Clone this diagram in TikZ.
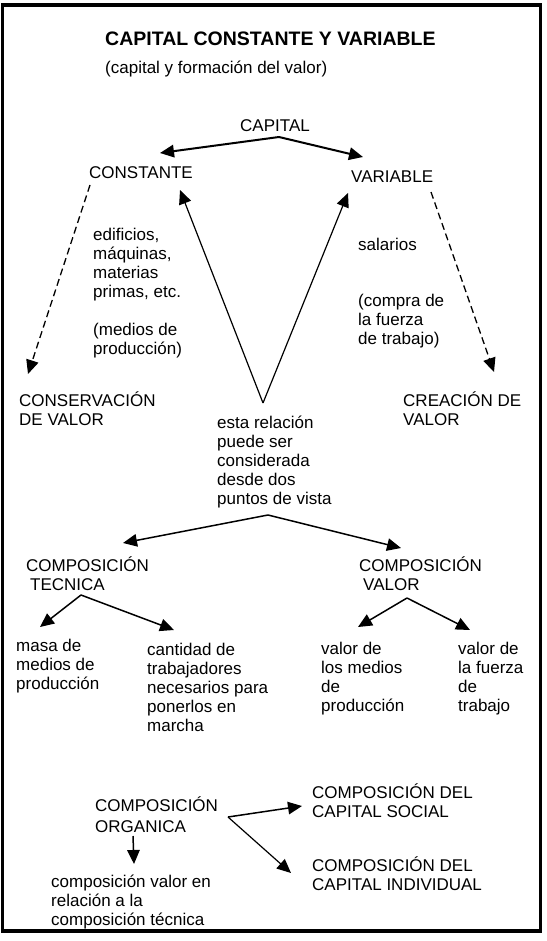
\documentclass[tikz,border=0pt]{standalone}
\usepackage{fontspec}
\setmainfont{Liberation Sans}
\usetikzlibrary{arrows.meta}
\newcommand{\fstrut}{\rule{0pt}{15pt}}
\begin{document}
\begin{tikzpicture}[x=1pt,y=-1pt,
  txt/.style={anchor=north west, inner sep=0pt, align=left, font=\fontsize{17}{19}\selectfont},
  ttl/.style={anchor=north west, inner sep=0pt, font=\bfseries\fontsize{19.5}{22}\selectfont},
  arr/.style={-{Triangle[length=14pt,width=12.5pt]}, line width=1.5pt},
  thickarr/.style={arr, line width=2pt},
  thinarr/.style={arr, line width=1.2pt},
  dasharr/.style={arr, line width=1.3pt, dash pattern=on 7pt off 4pt}]
\useasboundingbox (0,0) rectangle (546,941);
\draw[line width=3.5pt] (2.5,5) rectangle (540.5,931);

% texts (y = baseline - 15)
\node[ttl] (title) at (105,30) {\fstrut CAPITAL CONSTANTE Y VARIABLE};
\node[txt] (sub) at (105,58) {\fstrut(capital y formación del valor)};
\node[txt] (capital) at (240,116) {\fstrut CAPITAL};
\node[txt] (constante) at (89,163) {\fstrut CONSTANTE};
\node[txt] (variable) at (351,167) {\fstrut VARIABLE};
\node[txt] (edif) at (93,225) {\fstrut edificios,\\máquinas,\\materias\\primas, etc.\\[19pt](medios de\\producción)};
\node[txt] (salarios) at (358,235) {\fstrut salarios};
\node[txt] (compra) at (358,291) {\fstrut(compra de\\la fuerza\\de trabajo)};
\node[txt] (conserv) at (19,391) {\fstrut CONSERVACIÓN\\DE VALOR};
\node[txt] (creac) at (403,391) {\fstrut CREACIÓN DE\\VALOR};
\node[txt] (rel) at (217,413) {\fstrut esta relación\\puede ser\\considerada\\desde dos\\puntos de vista};
\node[txt] (ctec) at (26,556) {\fstrut COMPOSICIÓN\\\hspace{4pt}TECNICA};
\node[txt] (cval) at (359,556) {\fstrut COMPOSICIÓN\\\hspace{4pt}VALOR};
\node[txt] (masa) at (16,636) {\fstrut masa de\\medios de\\producción};
\node[txt] (cant) at (147,640) {\fstrut cantidad de\\trabajadores\\necesarios para\\ponerlos en\\marcha};
\node[txt] (vmed) at (321,639) {\fstrut valor de\\los medios\\de\\producción};
\node[txt] (vfue) at (458,639) {\fstrut valor de\\la fuerza\\de\\trabajo};
\node[txt] (corg) at (95,796) {\fstrut COMPOSICIÓN\\[2pt]ORGANICA};
\node[txt] (csoc) at (312,783) {\fstrut COMPOSICIÓN DEL\\CAPITAL SOCIAL};
\node[txt] (cind) at (312,856) {\fstrut COMPOSICIÓN DEL\\CAPITAL INDIVIDUAL};
\node[txt] (cvrel) at (51,872) {\fstrut composición valor en\\relación a la\\composición técnica};

% connector points
\coordinate (capA) at (279,137);
\coordinate (constT) at (160,153);
\coordinate (varT) at (363,157);
\coordinate (constD) at (90,185);
\coordinate (conservT) at (28,374);
\coordinate (varD) at (431,192);
\coordinate (creacT) at (494,372);
\coordinate (vB) at (263,403);
\coordinate (vL) at (180,190);
\coordinate (vR) at (348,193);
\coordinate (relA) at (268,515);
\coordinate (ctecT) at (123,543);
\coordinate (cvalT) at (401,548);
\coordinate (tecA) at (81,595);
\coordinate (masaT) at (40,627);
\coordinate (cantT) at (174,630);
\coordinate (valA) at (407,598);
\coordinate (vmedT) at (358,627);
\coordinate (vfueT) at (470,630);
\coordinate (orgD) at (133,836);
\coordinate (cvrelT) at (134,864);
\coordinate (orgA) at (228,817);
\coordinate (csocT) at (302,806);
\coordinate (cindT) at (291,873);

\draw[thickarr] (capA) -- (constT);
\draw[thickarr] (capA) -- (varT);
\draw[dasharr] (constD) -- (conservT);
\draw[dasharr] (varD) -- (creacT);
\draw[thinarr] (vB) -- (vL);
\draw[thinarr] (vB) -- (vR);
\draw[arr] (relA) -- (ctecT);
\draw[arr] (relA) -- (cvalT);
\draw[arr] (tecA) -- (masaT);
\draw[arr] (tecA) -- (cantT);
\draw[arr] (valA) -- (vmedT);
\draw[arr] (valA) -- (vfueT);
\draw[arr] (orgD) -- (cvrelT);
\draw[arr] (orgA) -- (csocT);
\draw[thinarr] (orgA) -- (cindT);
\end{tikzpicture}
\end{document}
